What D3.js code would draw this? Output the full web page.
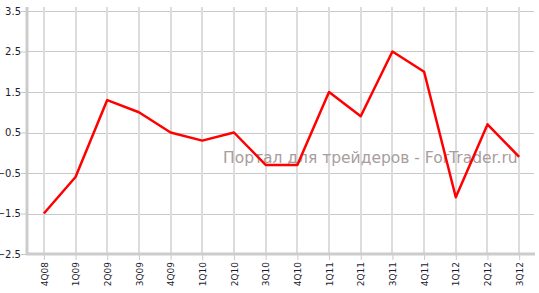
<!DOCTYPE html>
<html>
<head>
<meta charset="utf-8">
<script src="https://cdn.jsdelivr.net/npm/d3@7"></script>
<style>
  body { margin: 0; background: #fff; }
  svg text { font-family: "DejaVu Sans", Verdana, sans-serif; }
</style>
</head>
<body>
<svg id="chart"></svg>
<script>
var width = 539,
    height = 293;

var quarters = ["4Q08", "1Q09", "2Q09", "3Q09", "4Q09", "1Q10", "2Q10", "3Q10",
                "4Q10", "1Q11", "2Q11", "3Q11", "4Q11", "1Q12", "2Q12", "3Q12"];
var values = [-1.5, -0.6, 1.3, 1.0, 0.5, 0.3, 0.5, -0.3,
              -0.3, 1.5, 0.9, 2.5, 2.0, -1.1, 0.7, -0.1];
var yTicks = [-2.5, -1.5, -0.5, 0.5, 1.5, 2.5, 3.5];
var watermark = "Портал для трейдеров - ForTrader.ru";

var plotLeft = 27, plotRight = 535, plotTop = 11, plotBottom = 254;

var svg = d3.select("#chart")
    .attr("width", width)
    .attr("height", height);

var x = d3.scalePoint().domain(quarters).range([plotLeft + 1, plotRight]).padding(0.5),
    y = d3.scaleLinear().domain([-2.5, 3.5]).range([plotBottom, plotTop]);

// horizontal grid
svg.append("g").selectAll("line")
    .data(yTicks)
  .enter().append("line")
    .attr("x1", plotLeft)
    .attr("x2", plotRight - 1)
    .attr("y1", d => Math.round(y(d)) + 0.5)
    .attr("y2", d => Math.round(y(d)) + 0.5)
    .attr("stroke", "#c8c8c8")
    .attr("stroke-width", 1);

// vertical grid
svg.append("g").selectAll("line")
    .data(quarters)
  .enter().append("line")
    .attr("x1", d => Math.round(x(d)))
    .attr("x2", d => Math.round(x(d)))
    .attr("y1", 7)
    .attr("y2", plotBottom)
    .attr("stroke", "#dcdcdc")
    .attr("stroke-width", 2);

// watermark
svg.append("text")
    .attr("x", 223)
    .attr("y", 163)
    .attr("font-size", 15.5)
    .attr("fill", "#a89d9d")
    .text(watermark);

// y axis
var yAxis = d3.axisLeft(y).tickValues(yTicks).tickSize(6).tickFormat(d3.format(".1f"));
var gy = svg.append("g")
    .attr("transform", "translate(" + plotLeft + ",0)")
    .call(yAxis);
gy.select(".domain").remove();
gy.selectAll(".tick line").attr("stroke", "#c8c8c8").attr("stroke-width", 1);
gy.selectAll(".tick text")
    .attr("x", -6)
    .attr("font-size", 10)
    .attr("fill", "#1c1c2c");
svg.append("line")
    .attr("x1", plotLeft).attr("x2", plotLeft)
    .attr("y1", 7).attr("y2", plotBottom + 1)
    .attr("stroke", "#cccccc")
    .attr("stroke-width", 3);

// x axis
var xAxis = d3.axisBottom(x).tickSize(6);
var gx = svg.append("g")
    .attr("transform", "translate(0," + plotBottom + ")")
    .call(xAxis);
gx.select(".domain").remove();
gx.selectAll(".tick line").attr("stroke", "#c8c8c8").attr("stroke-width", 1);
gx.selectAll(".tick text")
    .attr("transform", "rotate(-90)")
    .attr("x", -8)
    .attr("y", 0)
    .attr("dy", "0.35em")
    .attr("text-anchor", "end")
    .attr("font-size", 9)
    .attr("fill", "#1c1c2c");
svg.append("line")
    .attr("x1", plotLeft - 1).attr("x2", plotRight)
    .attr("y1", plotBottom).attr("y2", plotBottom)
    .attr("stroke", "#cccccc")
    .attr("stroke-width", 3);

// series
var line = d3.line()
    .x((d, i) => x(quarters[i]))
    .y(d => y(d));

svg.append("path")
    .datum(values)
    .attr("fill", "none")
    .attr("stroke", "#ff0000")
    .attr("stroke-width", 2.5)
    .attr("stroke-linejoin", "round")
    .attr("d", line);
</script>
</body>
</html>
